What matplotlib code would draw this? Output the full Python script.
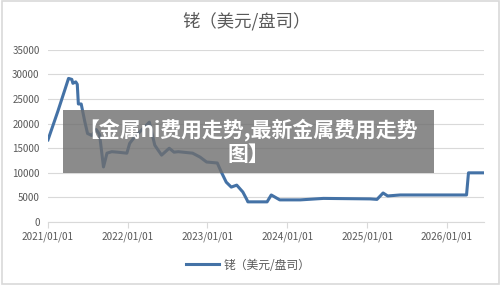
"""Rhodium price chart (USD/oz) with overlay banner."""
import numpy as np
import pandas as pd
import matplotlib
matplotlib.use("Agg")
import matplotlib.pyplot as plt
import matplotlib.dates as mdates
from matplotlib.patches import Rectangle

plt.rcParams["font.family"] = ["Noto Sans CJK SC", "DejaVu Sans"]

TITLE = "铑（美元/盘司）"
BANNER = "【金属ni费用走势,最新金属费用走势\n图】"

dates = ["2021-01-01", "2021-02-15", "2021-03-20", "2021-04-05", "2021-04-20",
         "2021-04-25", "2021-05-08", "2021-05-15", "2021-05-20", "2021-06-02",
         "2021-06-18", "2021-07-01", "2021-07-20", "2021-08-10", "2021-08-25",
         "2021-09-12", "2021-09-28", "2021-10-20", "2021-11-15", "2021-12-28",
         "2022-01-10", "2022-02-05", "2022-03-01", "2022-04-10", "2022-04-22",
         "2022-05-05", "2022-06-05", "2022-07-10", "2022-08-01", "2022-08-20",
         "2022-10-25", "2022-11-28", "2022-12-28", "2023-02-15", "2023-03-05",
         "2023-03-28", "2023-04-20", "2023-05-15", "2023-06-12", "2023-07-01",
         "2023-07-05", "2023-10-01", "2023-10-20", "2023-11-28", "2024-03-01",
         "2024-06-15", "2025-01-15", "2025-02-15", "2025-03-15", "2025-04-05",
         "2025-06-01", "2026-04-01", "2026-04-10", "2026-06-20"]
values = [16700, 22500, 27000, 29200, 29000,
          28200, 28500, 28000, 24000, 24000,
          20500, 18000, 17600, 18800, 17800,
          11200, 14000, 14300, 14200, 14000,
          16000, 17500, 18500, 20300, 18000,
          15600, 13600, 15000, 14200, 14300,
          14000, 13200, 12200, 12000, 10200,
          8100, 7100, 7500, 6100, 4500,
          4100, 4100, 5500, 4500, 4500,
          4800, 4700, 4600, 5900, 5300,
          5500, 5500, 10000, 10000]

yticks = [0, 5000, 10000, 15000, 20000, 25000, 30000, 35000]
xticks = ["2021-01-01", "2022-01-01", "2023-01-01", "2024-01-01", "2025-01-01", "2026-01-01"]

LINE = "#4472a6"
TXT = "#595959"
GRID = "#d9d9d9"

x = pd.to_datetime(dates)

fig = plt.figure(figsize=(5, 2.85), dpi=100)
fig.patch.set_facecolor("white")
ax = fig.add_axes([0.096, 0.221, 0.872, 0.604])

ln, = ax.plot(x, values, color=LINE, lw=2.2, solid_joinstyle="round", label=TITLE)

ax.set_ylim(0, 35000)
ax.set_xlim(pd.Timestamp("2021-01-01"), pd.Timestamp("2026-06-20"))
ax.set_yticks(yticks)
ax.set_xticks(pd.to_datetime(xticks))
ax.xaxis.set_major_formatter(mdates.DateFormatter("%Y/%m/%d"))
ax.grid(axis="y", color=GRID, lw=0.8)
ax.set_axisbelow(True)
for s in ["top", "right", "left"]:
    ax.spines[s].set_visible(False)
ax.spines["bottom"].set_color(GRID)
ax.tick_params(axis="y", length=0, labelsize=7, labelcolor=TXT, pad=6)
ax.tick_params(axis="x", length=4, color=GRID, labelsize=7.2, labelcolor=TXT, pad=3)

fig.text(0.493, 0.925, TITLE, ha="center", va="center", fontsize=12.5, color=TXT)

leg = fig.legend(handles=[ln], loc="center", bbox_to_anchor=(0.496, 0.07),
                 frameon=False, fontsize=8.5, handlelength=2.8, handletextpad=0.4)
for t in leg.get_texts():
    t.set_color(TXT)

# outer frame
fig.patches.append(Rectangle((0.003, 0.004), 0.994, 0.992, transform=fig.transFigure,
                             fill=False, ec="#d9d9d9", lw=1.2))

# banner overlay
fig.patches.append(Rectangle((0.126, 0.393), 0.742, 0.221, transform=fig.transFigure,
                             fc="#6e6e6e", alpha=0.8, ec="none", zorder=5))
fig.text(0.497, 0.503, BANNER, ha="center", va="center", fontsize=15,
         fontweight="bold", color="white", linespacing=1.2, zorder=6)

fig.savefig("out.png", dpi=100)
